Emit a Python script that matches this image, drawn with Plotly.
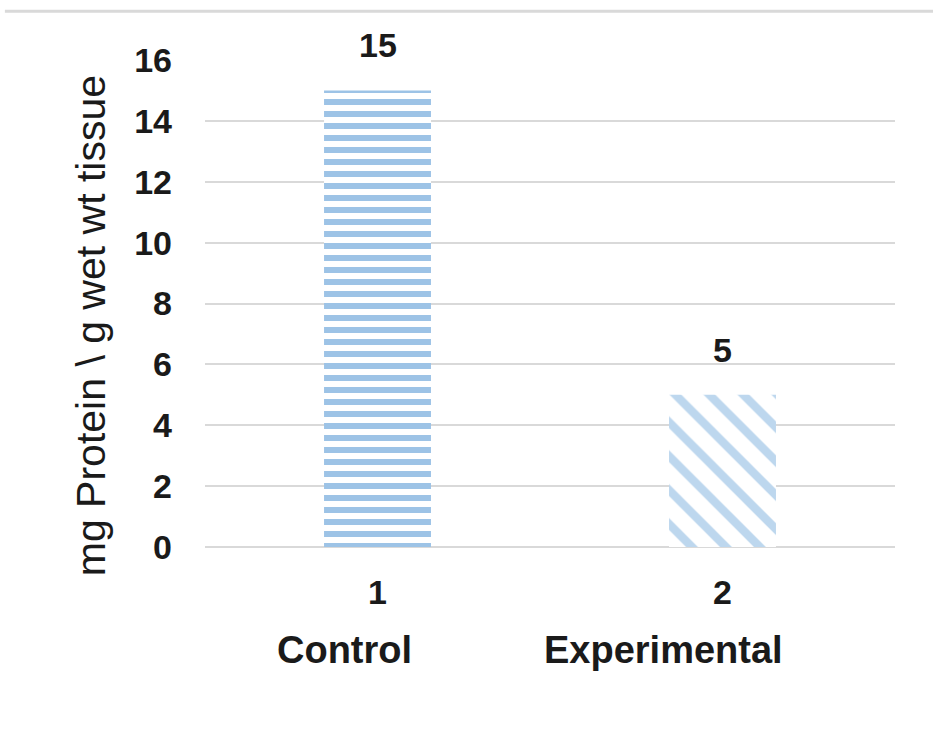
import plotly.graph_objects as go

# Bar data
categories = ["1", "2"]
group_names = ["Control", "Experimental"]
values = [15, 5]
y_ticks = [0, 2, 4, 6, 8, 10, 12, 14, 16]
y_title = "mg Protein \\ g wet wt tissue"

FONT = "Liberation Sans"
TXT = "#1a1a1a"

patterns = [
    dict(shape="-", fgcolor="#9dc3e6", bgcolor="white",
         size=12, solidity=0.5, fgopacity=1, fillmode="overlay"),
    dict(shape="\\", fgcolor="#bdd7ee", bgcolor="white",
         size=24, solidity=0.35, fgopacity=1, fillmode="overlay"),
]

fig = go.Figure()

for i, (cat, val, pat) in enumerate(zip(categories, values, patterns)):
    fig.add_trace(go.Bar(
        x=[cat], y=[val],
        width=0.31,
        marker=dict(color="rgba(0,0,0,0)", line=dict(width=0), pattern=pat),
        showlegend=False,
    ))
    # value label above the bar
    fig.add_annotation(
        x=i, y=val, xref="x", yref="y",
        text=str(val), showarrow=False,
        yanchor="bottom", yshift=24,
        font=dict(family=FONT, size=34, color=TXT, weight="bold"),
    )

# Group names beneath the category numbers
shifts = [-33, -59]
for i, (name, dx) in enumerate(zip(group_names, shifts)):
    fig.add_annotation(
        x=i, y=0, xref="x", yref="y",
        text=name, showarrow=False,
        yshift=-103, xshift=dx,
        font=dict(family=FONT, size=38, color=TXT, weight="bold"),
    )

# Y axis title
fig.add_annotation(
    x=-0.164, y=0.455, xref="paper", yref="paper",
    xanchor="center", yanchor="middle",
    text=y_title, textangle=-90, showarrow=False,
    font=dict(family=FONT, size=41, color=TXT),
)

# Thin rule across the top of the chart frame
fig.add_shape(type="line", xref="paper", yref="paper",
              x0=-0.29, x1=1.06, y0=1.1, y1=1.1,
              line=dict(color="#d9d9d9", width=3))

fig.update_layout(
    width=933, height=733,
    margin=dict(l=205, r=38, t=60, b=186),
    paper_bgcolor="white", plot_bgcolor="white",
    barmode="overlay",
    font=dict(family=FONT, color=TXT),
    xaxis=dict(
        type="category",
        tickfont=dict(family=FONT, size=34, color=TXT, weight="bold"),
        showgrid=False, showline=False, ticks="",
        ticklabelstandoff=22,
    ),
    yaxis=dict(
        range=[0, 16],
        tickvals=y_ticks,
        tickfont=dict(family=FONT, size=34, color=TXT, weight="bold"),
        showgrid=True, gridcolor="#d9d9d9", gridwidth=2,
        zeroline=True, zerolinecolor="#d9d9d9", zerolinewidth=2,
        showline=False, ticks="",
        ticklabelstandoff=32,
    ),
)

fig.write_html("out.html")
